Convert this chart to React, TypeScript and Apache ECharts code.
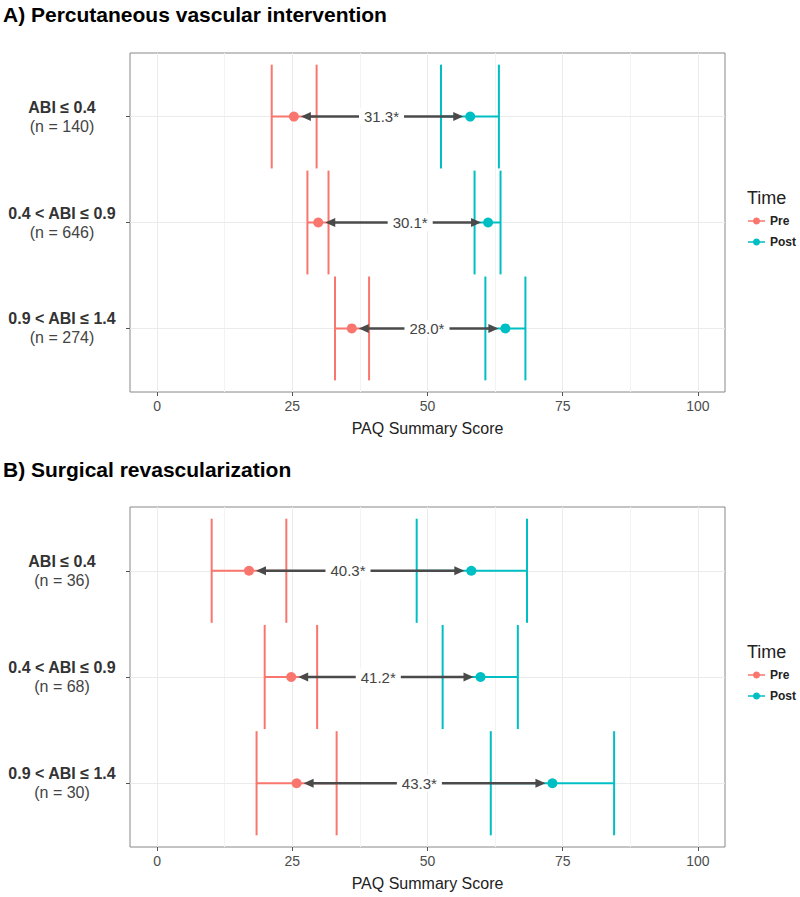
import React, { useEffect, useRef } from 'react';
import * as echarts from 'echarts';

const FONT = '"Liberation Sans", Arial, Helvetica, sans-serif';

const categories = ['ABI ≤ 0.4', '0.4 < ABI ≤ 0.9', '0.9 < ABI ≤ 1.4'];
const rows = [1, 2, 3];
const xTicks = [0, 25, 50, 75, 100];
const xMinor = [12.5, 37.5, 62.5, 87.5];

// Panel A: Percutaneous vascular intervention
const nA = [140, 646, 274];
const preMeanA = [25.3, 29.8, 36.0];
const preLoA = [21.2, 27.8, 32.9];
const preHiA = [29.5, 31.7, 39.2];
const postMeanA = [57.9, 61.2, 64.4];
const postLoA = [52.5, 58.7, 60.7];
const postHiA = [63.2, 63.5, 68.1];
const diffA = ['31.3*', '30.1*', '28.0*'];
const labelXA = [41.5, 46.8, 49.9];

// Panel B: Surgical revascularization
const nB = [36, 68, 30];
const preMeanB = [17.0, 24.8, 25.8];
const preLoB = [10.1, 19.9, 18.4];
const preHiB = [23.9, 29.6, 33.2];
const postMeanB = [58.1, 59.8, 73.1];
const postLoB = [48.0, 52.8, 61.7];
const postHiB = [68.4, 66.7, 84.5];
const diffB = ['40.3*', '41.2*', '43.3*'];
const labelXB = [35.3, 40.9, 48.5];

const PRE = '#F8766D';
const POST = '#00BFC4';
const ARROW = '#4a4a4a';

const KEY_ICON =
  'path://M0,4.2 L6,4.2 A4.1,4.1 0 0 1 14,4.2 L20,4.2 L20,5.8 L14,5.8 A4.1,4.1 0 0 1 6,5.8 L0,5.8 Z';

function errorbarSeries(g: number, lo: number[], hi: number[], color: string) {
  return {
    type: 'custom',
    xAxisIndex: g,
    yAxisIndex: g,
    z: 3,
    silent: true,
    encode: { x: [0, 1], y: 2 },
    data: rows.map((r, i) => [lo[i], hi[i], r]),
    renderItem: (params: any, api: any) => {
      const y = api.value(2);
      const a = api.coord([api.value(0), y]);
      const b = api.coord([api.value(1), y]);
      const t = api.coord([api.value(0), y - 0.49])[1];
      const btm = api.coord([api.value(0), y + 0.49])[1];
      const st = { stroke: color, lineWidth: 2 };
      return {
        type: 'group',
        children: [
          { type: 'line', shape: { x1: a[0], y1: a[1], x2: b[0], y2: b[1] }, style: st },
          { type: 'line', shape: { x1: a[0], y1: t, x2: a[0], y2: btm }, style: st },
          { type: 'line', shape: { x1: b[0], y1: t, x2: b[0], y2: btm }, style: st },
        ],
      };
    },
  };
}

function pointSeries(g: number, name: string, mean: number[], color: string) {
  return {
    type: 'scatter',
    name,
    xAxisIndex: g,
    yAxisIndex: g,
    z: 4,
    silent: true,
    symbol: 'circle',
    symbolSize: 10,
    itemStyle: { color, opacity: 1 },
    data: rows.map((r, i) => [mean[i], r]),
  };
}

function arrowSeries(g: number, pre: number[], post: number[], labelX: number[], diff: string[]) {
  return {
    type: 'custom',
    xAxisIndex: g,
    yAxisIndex: g,
    z: 5,
    silent: true,
    encode: { x: [0, 1], y: 2 },
    data: rows.map((r, i) => [pre[i], post[i], r, labelX[i]]),
    renderItem: (params: any, api: any) => {
      const y = api.value(2);
      const p = api.coord([api.value(0), y]);
      const q = api.coord([api.value(1), y]);
      const l = api.coord([api.value(3), y]);
      const yy = p[1];
      const x1 = p[0] + 7;
      const x2 = q[0] - 7;
      const hl = 10;
      const hw = 4.5;
      return {
        type: 'group',
        children: [
          {
            type: 'line',
            shape: { x1: x1 + 4, y1: yy, x2: x2 - 4, y2: yy },
            style: { stroke: ARROW, lineWidth: 2.5 },
          },
          {
            type: 'polygon',
            shape: { points: [[x1, yy], [x1 + hl, yy - hw], [x1 + hl, yy + hw]] },
            style: { fill: ARROW },
          },
          {
            type: 'polygon',
            shape: { points: [[x2, yy], [x2 - hl, yy - hw], [x2 - hl, yy + hw]] },
            style: { fill: ARROW },
          },
          {
            type: 'text',
            style: {
              text: diff[params.dataIndex],
              x: l[0],
              y: yy,
              align: 'center',
              verticalAlign: 'middle',
              fill: '#444',
              fontSize: 15,
              fontFamily: FONT,
              backgroundColor: '#fff',
              padding: [1, 5],
            },
          },
        ],
      };
    },
  };
}

function gridSeries(g: number) {
  const ls = (c: string) => ({ color: c, width: 1, type: 'solid' });
  return {
    type: 'scatter',
    xAxisIndex: g,
    yAxisIndex: g,
    data: [],
    z: 1,
    silent: true,
    markLine: {
      z: 1,
      silent: true,
      symbol: ['none', 'none'],
      label: { show: false },
      emphasis: { disabled: true },
      data: [
        ...xMinor.map((v) => ({ xAxis: v, lineStyle: ls('#f3f3f3') })),
        ...xTicks.map((v) => ({ xAxis: v, lineStyle: ls('#ebebeb') })),
        ...rows.map((v) => ({ yAxis: v, lineStyle: ls('#ebebeb') })),
      ],
    },
  };
}

function xAxis(g: number) {
  return {
    type: 'value',
    gridIndex: g,
    min: -5,
    max: 105,
    axisLine: { show: false, onZero: false },
    splitLine: { show: false },
    axisTick: { show: true, customValues: xTicks, length: 4, lineStyle: { color: '#555' } },
    axisLabel: { customValues: xTicks, fontSize: 14, color: '#4d4d4d', margin: 7, fontFamily: FONT },
    name: 'PAQ Summary Score',
    nameLocation: 'middle',
    nameGap: 28,
    nameTextStyle: { fontSize: 16, color: '#222', fontFamily: FONT },
  };
}

function yAxis(g: number, n: number[]) {
  return {
    type: 'value',
    gridIndex: g,
    min: 0.4,
    max: 3.6,
    inverse: true,
    axisLine: { show: false, onZero: false },
    splitLine: { show: false },
    axisTick: { show: true, customValues: rows, length: 4, lineStyle: { color: '#555' } },
    axisLabel: {
      customValues: rows,
      align: 'center',
      margin: 68,
      formatter: (v: number) => `{b|${categories[v - 1]}}\n{n|(n = ${n[v - 1]})}`,
      rich: {
        b: { fontWeight: 'bold', fontSize: 16, color: '#333', lineHeight: 19, fontFamily: FONT, align: 'center' },
        n: { fontSize: 16, color: '#444', lineHeight: 19, fontFamily: FONT, align: 'center' },
      },
    },
  };
}

function legend(top: number) {
  return {
    orient: 'vertical',
    left: 748,
    top,
    padding: 0,
    itemWidth: 17,
    itemHeight: 10,
    itemGap: 7,
    selectedMode: false,
    data: [
      { name: 'Pre', icon: KEY_ICON },
      { name: 'Post', icon: KEY_ICON },
    ],
    textStyle: { fontSize: 12, fontWeight: 'bold', color: '#222', lineHeight: 14, fontFamily: FONT, overflow: 'none' },
  };
}

export default function App() {
  const ref = useRef<HTMLDivElement>(null);
  useEffect(() => {
    document.body.style.margin = '0';
    if (!ref.current) return;
    const chart = echarts.init(ref.current, undefined, { renderer: 'svg' });
    const option: any = {
      animation: false,
      backgroundColor: '#fff',
      textStyle: { fontFamily: FONT },
      title: [
        {
          text: 'A) Percutaneous vascular intervention',
          left: 3,
          top: 4,
          padding: 0,
          textStyle: { fontSize: 21, fontWeight: 'bold', color: '#000', fontFamily: FONT },
        },
        {
          text: 'B) Surgical revascularization',
          left: 3,
          top: 459,
          padding: 0,
          textStyle: { fontSize: 21, fontWeight: 'bold', color: '#000', fontFamily: FONT },
        },
      ],
      graphic: [
        { type: 'text', left: 747, top: 189, style: { text: 'Time', fontSize: 18, fill: '#222', fontFamily: FONT } },
        { type: 'text', left: 747, top: 643, style: { text: 'Time', fontSize: 18, fill: '#222', fontFamily: FONT } },
      ],
      legend: [legend(214), legend(668)],
      grid: [
        { left: 130, right: 75, top: 53, height: 339, show: true, borderColor: '#888', borderWidth: 1, backgroundColor: '#fff' },
        { left: 130, right: 75, top: 507, height: 340, show: true, borderColor: '#888', borderWidth: 1, backgroundColor: '#fff' },
      ],
      xAxis: [xAxis(0), xAxis(1)],
      yAxis: [yAxis(0, nA), yAxis(1, nB)],
      series: [
        gridSeries(0),
        errorbarSeries(0, preLoA, preHiA, PRE),
        errorbarSeries(0, postLoA, postHiA, POST),
        pointSeries(0, 'Pre', preMeanA, PRE),
        pointSeries(0, 'Post', postMeanA, POST),
        arrowSeries(0, preMeanA, postMeanA, labelXA, diffA),
        gridSeries(1),
        errorbarSeries(1, preLoB, preHiB, PRE),
        errorbarSeries(1, postLoB, postHiB, POST),
        pointSeries(1, 'Pre', preMeanB, PRE),
        pointSeries(1, 'Post', postMeanB, POST),
        arrowSeries(1, preMeanB, postMeanB, labelXB, diffB),
      ],
    };
    chart.setOption(option);
    return () => chart.dispose();
  }, []);
  return <div ref={ref} style={{ width: 800, height: 897 }} />;
}
